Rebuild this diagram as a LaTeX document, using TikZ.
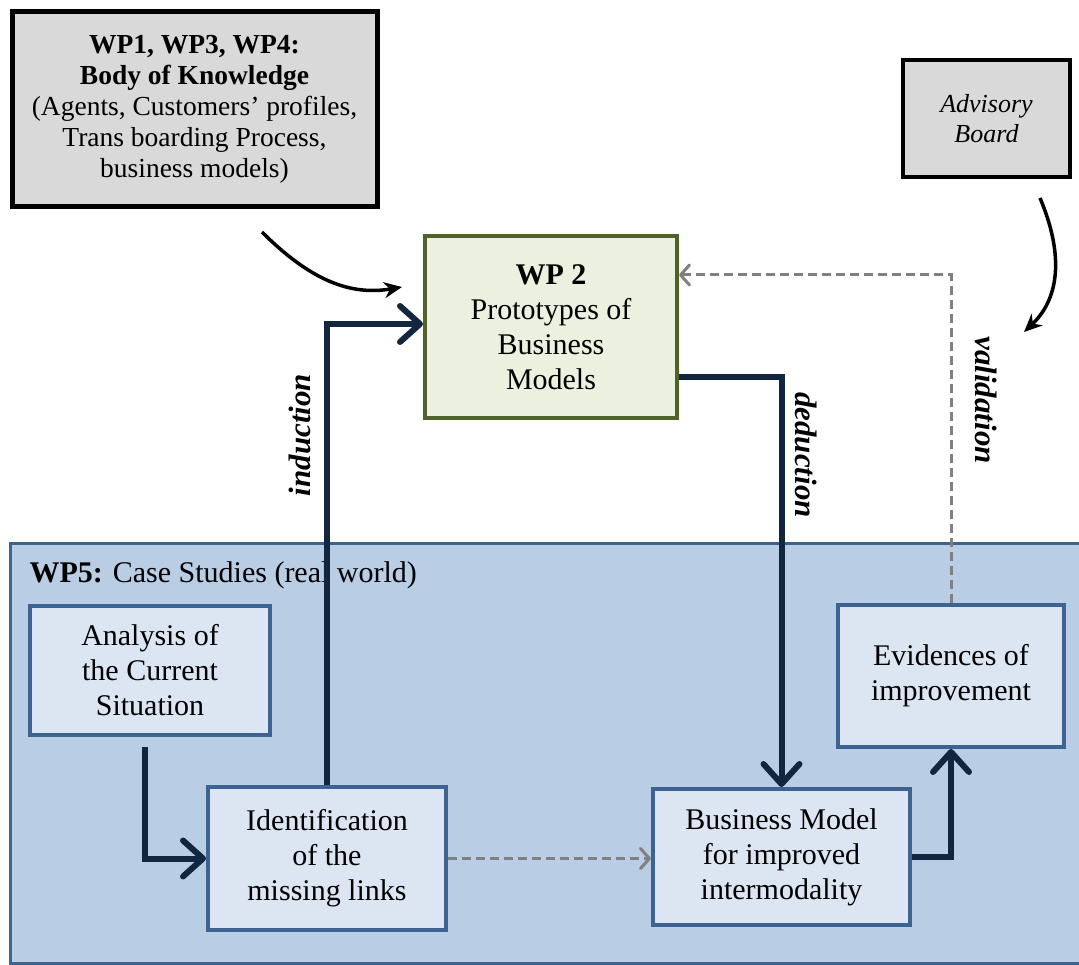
\documentclass[tikz,border=0pt]{standalone}
\usepackage{fontspec}
\setmainfont{Liberation Serif}
\usetikzlibrary{arrows.meta}

\definecolor{navy}{HTML}{13263F}
\definecolor{boxline}{HTML}{3C6392}
\definecolor{boxfill}{HTML}{DCE6F2}
\definecolor{casefill}{HTML}{B9CDE5}
\definecolor{wpline}{HTML}{4F6228}
\definecolor{wpfill}{HTML}{EBF1DE}
\definecolor{bokfill}{HTML}{D9D9D9}
\definecolor{dashgray}{HTML}{808080}

\begin{document}
\begin{tikzpicture}[x=1pt,y=-1pt,
  box/.style={draw=boxline,line width=4pt,fill=boxfill,align=center,inner sep=0pt,
    font=\fontsize{30}{35}\selectfont},
  flow/.style={draw=navy,line width=6pt,-{Straight Barb[length=20pt,width=36pt,round]}},
  back/.style={draw=dashgray,line width=3pt,dash pattern=on 9pt off 5pt,
    -{Straight Barb[length=9pt,width=20pt,round]}},
  feed/.style={draw=black,line width=3.5pt,-{Stealth[length=18pt,width=16pt]}},
  steplabel/.style={font=\fontsize{31}{35}\selectfont\bfseries\itshape}]
    \useasboundingbox (0,0) rectangle (1079,965);
    \clip (0,0) rectangle (1079,965);

    % case studies area
    \draw[fill=casefill,draw=boxline,line width=3pt] (10,543) rectangle (1090,963);
    \node[anchor=base west,font=\fontsize{30}{35}\selectfont] (wp5) at (26,582)
        {\textbf{WP5:} Case Studies (real world)};

    \node[draw=black,line width=5pt,fill=bokfill,align=center,inner sep=0pt,
          minimum width=365pt,minimum height=195pt,font=\fontsize{27.5}{31}\selectfont]
        (bok) at (194.5,109.5) {\textbf{WP1, WP3, WP4:}\\\textbf{Body of Knowledge}\\
        (Agents, Customers’ profiles,\\Trans boarding Process,\\business models)};
    \node[draw=black,line width=4.5pt,fill=bokfill,align=center,inner sep=0pt,
          minimum width=167pt,minimum height=117pt,font=\fontsize{26}{30}\selectfont\itshape]
        (board) at (986.5,118.5) {Advisory\\Board};
    \node[box,draw=wpline,fill=wpfill,minimum width=252pt,minimum height=182pt]
        (wp2) at (551,327) {\textbf{WP 2}\\Prototypes of\\Business\\Models};

    \node[box,minimum width=240pt,minimum height=129pt] (analysis) at (150,670.5)
        {Analysis of\\the Current\\Situation};
    \node[box,minimum width=238pt,minimum height=143pt] (missing) at (327,858.5)
        {Identification\\of the\\missing links};
    \node[box,minimum width=257pt,minimum height=136pt] (bmodel) at (781.5,857)
        {Business Model\\for improved\\intermodality};
    \node[box,minimum width=226pt,minimum height=142pt] (evidence) at (951,676)
        {Evidences of\\improvement};

    \draw[flow,shorten <=10pt] ([xshift=-5pt]analysis.south) |- (missing.west);
    \draw[flow] (missing.north) |- ([yshift=3pt]wp2.west);
    \draw[flow] ([yshift=-50pt]wp2.east) -| (bmodel.north);
    \draw[flow] (bmodel.east) -| (evidence.south);

    \draw[back] (missing.east) -- (missing.east -| bmodel.west);
    \draw[back] (evidence.north) |- ([yshift=52pt]wp2.east);

    \coordinate (bokin) at (262,232);
    \coordinate (bokout) at (402,287);
    \coordinate (boardin) at (1040,198);
    \coordinate (boardout) at (1024,332);
    \draw[feed] (bokin) .. controls (310,280) and (350,296) .. (bokout);
    \draw[feed] (boardin) .. controls (1062,250) and (1062,296) .. (boardout);

    \node[steplabel,rotate=90] (induction) at (300,435) {induction};
    \node[steplabel,rotate=-90] (deduction) at (806,455) {deduction};
    \node[steplabel,rotate=-90] (validation) at (986,400) {validation};
\end{tikzpicture}
\end{document}
